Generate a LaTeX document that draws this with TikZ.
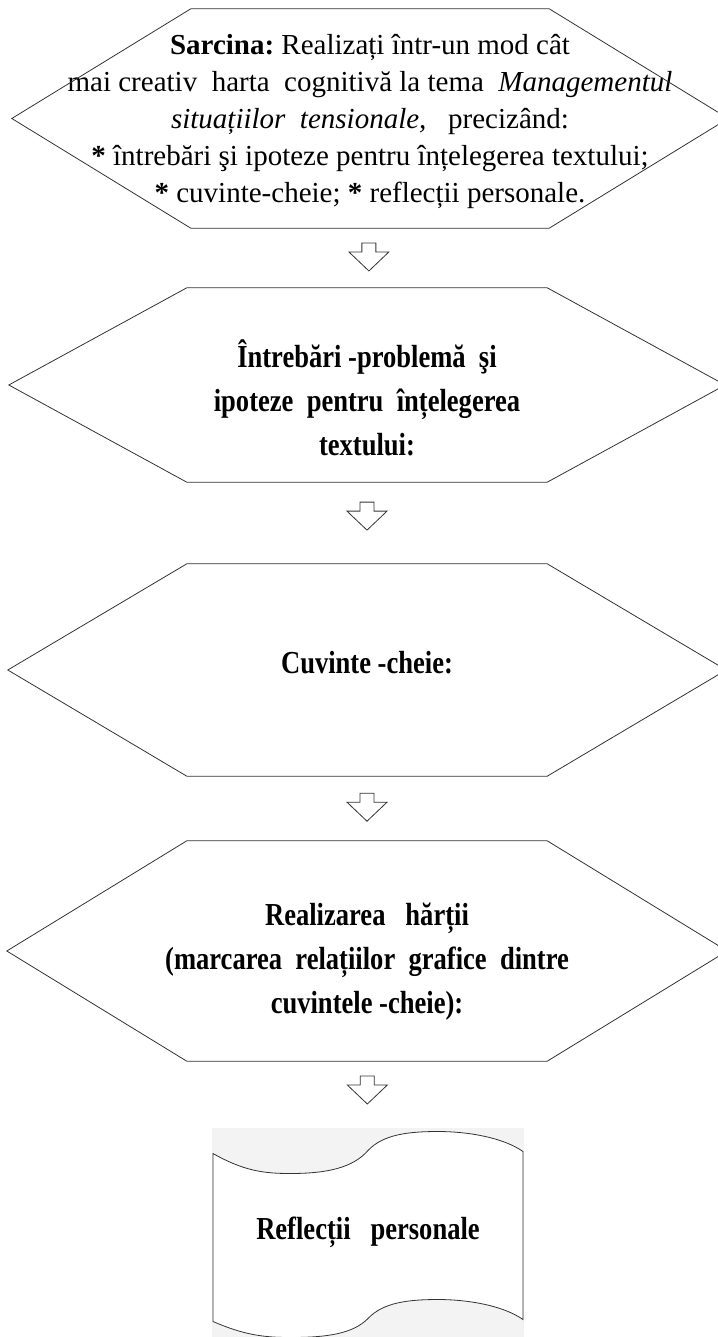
\documentclass[tikz,border=0pt]{standalone}
\usepackage{fontspec}
\setmainfont{Liberation Serif}
\newfontfamily\narrowserif[FakeStretch=0.83]{Liberation Serif}
\usetikzlibrary{calc,backgrounds}
\definecolor{linec}{HTML}{333333}
\definecolor{scrollbg}{HTML}{F3F3F3}
\newcommand{\hexoutline}[3]{%
  \draw[hexline] ([yshift=#3]#1.west) -- ([xshift=#2,yshift=#3]#1.north west)
    -- ([xshift=-#2,yshift=#3]#1.north east) -- ([yshift=#3]#1.east)
    -- ([xshift=-#2,yshift=#3]#1.south east) -- ([xshift=#2,yshift=#3]#1.south west) -- cycle;}
\newcommand{\blockarrow}[1]{%
  \draw[hexline,fill=white,shift={(#1)}] (-7,-14) -- (7,-14) -- (7,-5) -- (20,-5)
    -- (0,14) -- (-20,-5) -- (-7,-5) -- cycle;}

\begin{document}
\begin{tikzpicture}[x=1pt,y=-1pt,
  hx/.style={inner sep=0pt,align=center,
             font=\narrowserif\bfseries\fontsize{32}{44}\selectfont},
  hexline/.style={draw=linec,line width=0.8pt,line join=miter},
]
\useasboundingbox (0,0) rectangle (717,1337);

\node[hx,font=\fontsize{29}{37}\selectfont,minimum width=716pt,minimum height=219pt]
  (sarcina) at (370,121.5)
  {\textbf{Sarcina:}\ Realizați într-un mod cât\\
   mai creativ\ \ harta\ \ cognitivă\ la tema\ \ \textit{Managementul}\\
   \textit{situațiilor\ \ tensionale,}\ \ \ precizând:\\
   \textbf{*} întrebări şi ipoteze\ pentru\ înțelegerea\ textului;\\
   \textbf{*} cuvinte-cheie;\ \textbf{*} reflecții personale.};
\node[hx,minimum width=716pt,minimum height=194pt] (intreb) at (367,398)
  {Întrebări -problemă\ \ şi\\ ipoteze\ \ pentru\ \ înțelegerea\\ textului:};
\node[hx,minimum width=718pt,minimum height=212pt] (cuvinte) at (367,663)
  {Cuvinte -cheie:};
\node[hx,minimum width=720pt,minimum height=220pt] (harta) at (367,962)
  {Realizarea\ \ \ hărții\\ (marcarea\ \ relațiilor\ \ grafice\ \ dintre\\
   cuvintele\ -cheie):};
\node[hx,minimum width=312pt,minimum height=209pt] (reflectii) at (368,1232.5)
  {Reflecții\ \ \ personale};

\hexoutline{sarcina}{179pt}{3pt}
\hexoutline{intreb}{178pt}{13pt}
\hexoutline{cuvinte}{179pt}{-7pt}
\hexoutline{harta}{180pt}{11pt}

\begin{scope}[on background layer]
  \fill[scrollbg] (reflectii.north west) rectangle (reflectii.south east);
  \draw[hexline,fill=white,shift={(reflectii.center)}]
    (-155,-79) .. controls (-125,-62) and (-105,-59) .. (-78,-59)
    .. controls (-40,-59) and (-15,-65) .. (0,-82)
    .. controls (15,-98) and (40,-101) .. (70,-101)
    .. controls (100,-101) and (135,-95) .. (155,-81)
    -- (155,87)
    .. controls (135,73) and (100,67) .. (70,67)
    .. controls (40,67) and (15,70) .. (0,86)
    .. controls (-15,101) and (-40,105) .. (-78,105)
    .. controls (-105,105) and (-125,102) .. (-155,89) -- cycle;
\end{scope}

\coordinate (arr1) at ($(sarcina.south)!.37!(intreb.north)$);
\coordinate (arr2) at ($(intreb.south)!.34!(cuvinte.north)$);
\coordinate (arr3) at ($(cuvinte.south)!.46!(harta.north)$);
\coordinate (arr4) at ($(harta.south)!.32!(reflectii.north)$);
\blockarrow{arr1}
\blockarrow{arr2}
\blockarrow{arr3}
\blockarrow{arr4}
\end{tikzpicture}
\end{document}
